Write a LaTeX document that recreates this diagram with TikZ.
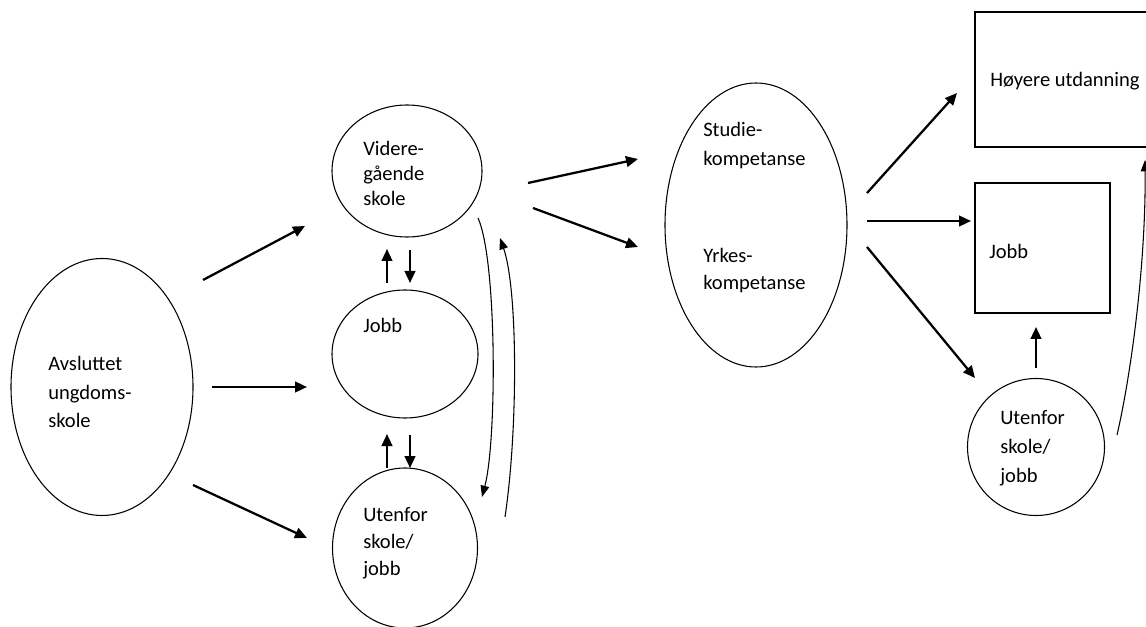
\documentclass[tikz,border=0pt]{standalone}
\usepackage{fontspec}
\setmainfont{Carlito}
\usetikzlibrary{arrows.meta,shapes.geometric}
\newcommand\txtlines[2]{\vtop{\baselineskip=#1\relax\lineskiplimit=-100pt\relax #2}}
\begin{document}
\begin{tikzpicture}[x=0.75pt,y=-0.75pt,
  oval/.style={draw, line width=0.8pt, inner sep=0pt, ellipse},
  boxnode/.style={draw, line width=0.8pt, inner sep=0pt, rectangle},
  lbl/.style={anchor=base west, inner sep=0pt, font=\fontsize{15.4pt}{18pt}\selectfont},
  bigarrow/.style={line width=1.7pt, -{Triangle[length=9pt,width=8pt]}},
  thinarrow/.style={line width=0.8pt, -{Triangle[length=8.5pt,width=6.5pt]}}]
\useasboundingbox (0,0) rectangle (1146,627);

% shapes
\node[oval, minimum width=136.5pt, minimum height=192.75pt] (avs) at (102,387) {};
\node[oval, minimum width=112.5pt, minimum height=99pt] (vgs) at (407,171) {};
\node[oval, minimum width=109.5pt, minimum height=96pt] (jobbL) at (405,354) {};
\node[oval, minimum width=108.75pt, minimum height=120pt] (utL) at (405,548) {};
\node[oval, minimum width=136.5pt, minimum height=213pt] (komp) at (756,225) {};
\node[oval, minimum width=102.75pt, minimum height=102.75pt] (utR) at (1036,447) {};
\node[boxnode, minimum width=131.25pt, minimum height=101.25pt] (hoy) at (1062.5,79.5) {};
\node[boxnode, minimum width=101.25pt, minimum height=97.5pt] (jobbR) at (1042.5,248) {};

% labels
\node[lbl] (tavs) at (48,370) {\txtlines{21.75pt}{\hbox{Avsluttet}\hbox{ungdoms-}\hbox{skole}}};
\node[lbl] (tvgs) at (363,156) {\txtlines{18.75pt}{\hbox{Videre-}\hbox{gående}\hbox{skole}}};
\node[lbl] (tjobbL) at (363,333) {Jobb};
\node[lbl] (tutL) at (363,521) {\txtlines{20.25pt}{\hbox{Utenfor}\hbox{skole/}\hbox{jobb}}};
\node[lbl] (tstud) at (703,137) {\txtlines{21.75pt}{\hbox{Studie-}\hbox{kompetanse}}};
\node[lbl] (tyrk) at (703,263) {\txtlines{20.25pt}{\hbox{Yrkes-}\hbox{kompetanse}}};
\node[lbl] (thoy) at (990,87) {Høyere utdanning};
\node[lbl] (tjobbR) at (989,259) {Jobb};
\node[lbl] (tutR) at (1000,424) {\txtlines{21.75pt}{\hbox{Utenfor}\hbox{skole/}\hbox{jobb}}};

% connector end points
\coordinate (a1s) at (203,280); \coordinate (a1e) at (305,226);
\coordinate (a2s) at (212,387); \coordinate (a2e) at (307,387);
\coordinate (a3s) at (193,485); \coordinate (a3e) at (307,538);
\coordinate (s1s) at (387,283); \coordinate (s1e) at (387,249);
\coordinate (s2s) at (410,250); \coordinate (s2e) at (410,283);
\coordinate (s3s) at (387,468); \coordinate (s3e) at (387,434);
\coordinate (s4s) at (410,435); \coordinate (s4e) at (410,468);
\coordinate (b1s) at (528,183); \coordinate (b1e) at (638,159);
\coordinate (b2s) at (533,208); \coordinate (b2e) at (638,247);
\coordinate (c1s) at (867,193); \coordinate (c1e) at (957,93);
\coordinate (c2s) at (867,221); \coordinate (c2e) at (971,221);
\coordinate (c3s) at (867,247); \coordinate (c3e) at (975,378);
\coordinate (c4s) at (1036,368); \coordinate (c4e) at (1036,327);
\coordinate (d1s) at (478,218); \coordinate (d1e) at (482,497);
\coordinate (d2s) at (505,517); \coordinate (d2e) at (500,238);
\coordinate (d3s) at (1117,435); \coordinate (d3e) at (1145,160);

% connectors
\draw[bigarrow] (a1s) -- (a1e);
\draw[bigarrow] (a2s) -- (a2e);
\draw[bigarrow] (a3s) -- (a3e);
\draw[bigarrow] (s1s) -- (s1e);
\draw[bigarrow] (s2s) -- (s2e);
\draw[bigarrow] (s3s) -- (s3e);
\draw[bigarrow] (s4s) -- (s4e);
\draw[bigarrow] (b1s) -- (b1e);
\draw[bigarrow] (b2s) -- (b2e);
\draw[bigarrow] (c1s) -- (c1e);
\draw[bigarrow] (c2s) -- (c2e);
\draw[bigarrow] (c3s) -- (c3e);
\draw[bigarrow] (c4s) -- (c4e);
\draw[thinarrow] (d1s) .. controls (497,260) and (497,440) .. (d1e);
\draw[thinarrow] (d2s) .. controls (518,430) and (518,290) .. (d2e);
\draw[thinarrow] (d3s) .. controls (1132,370) and (1146,260) .. (d3e);
\end{tikzpicture}
\end{document}
